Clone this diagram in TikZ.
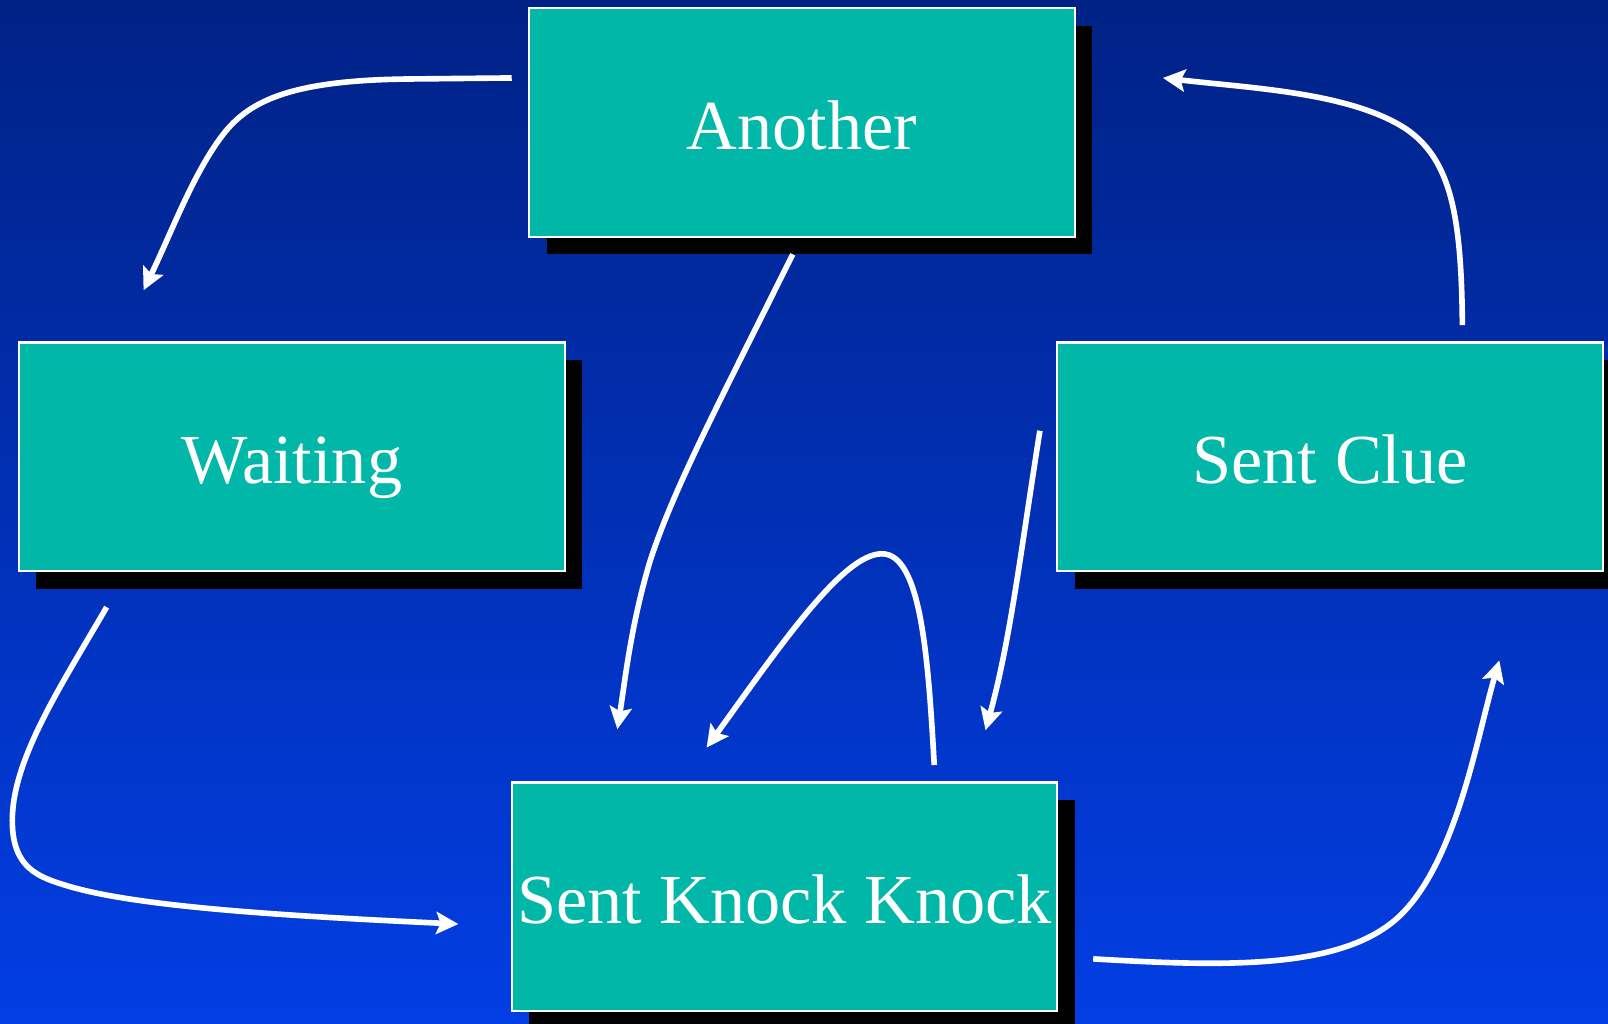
\documentclass[tikz,border=0pt]{standalone}
\usepackage{fontspec}
\setmainfont{Liberation Serif}
\usetikzlibrary{arrows.meta,shadows}
\definecolor{bgtop}{RGB}{0,34,134}
\definecolor{bgbot}{RGB}{2,62,228}
\definecolor{teal}{RGB}{0,183,168}
\begin{document}
\begin{tikzpicture}[x=0.0102551cm,y=-0.0102551cm,
  statebox/.style={draw=white,line width=0.6pt,fill=teal,minimum width=5.456cm,minimum height=2.287cm,
    inner sep=0pt,text=white,font=\fontsize{20}{24}\selectfont,text height=15.4pt,text depth=0pt,
    drop shadow={shadow xshift=0.174cm,shadow yshift=-0.174cm,opacity=1,fill=black}},
  conn/.style={draw=white,line width=1.6pt,-{Stealth[length=6.3pt,width=6.3pt,inset=1.2pt]}}]
\useasboundingbox (0,0) rectangle (1568,998);
\clip (0,0) rectangle (1568,998);
\shade[top color=bgtop,bottom color=bgbot] (0,0) rectangle (1568,998);
\node[statebox] (another) at (782,119.5) {Another};
\node[statebox] (waiting) at (284.5,445.5) {Waiting};
\node[statebox] (clue) at (1297,445.5) {Sent Clue};
\node[statebox] (skk) at (765,874.5) {Sent Knock Knock};
% free ends
\coordinate (aw1) at (499,76);   \coordinate (aw2) at (140,283);
\coordinate (as1) at (773,248);  \coordinate (as2) at (602,711);
\coordinate (ss1) at (911,746);  \coordinate (ss2) at (689,729);
\coordinate (cs1) at (1014,420); \coordinate (cs2) at (961,712);
\coordinate (ws1) at (104,592);  \coordinate (ws2) at (447,901);
\coordinate (sc1) at (1066,935); \coordinate (sc2) at (1462,644);
\coordinate (ca1) at (1426,317); \coordinate (ca2) at (1134,76);
% Another -> Waiting
\draw[conn] (aw1) -- (400,77) .. controls (285,78) and (245,98) .. (220,128) .. controls (190,165) and (168,225) .. (aw2);
% Another -> Sent Knock Knock
\draw[conn] (as1) .. controls (700,395) and (655,480) .. (633,550) .. controls (615,612) and (610,660) .. (as2);
% Sent Knock Knock self loop
\draw[conn] (ss1) .. controls (905,640) and (898,540) .. (860,540) .. controls (822,540) and (762,628) .. (ss2);
% Sent Clue -> Sent Knock Knock
\draw[conn] (cs1) .. controls (995,540) and (985,625) .. (cs2);
% Waiting -> Sent Knock Knock
\draw[conn] (ws1) .. controls (60,668) and (12,740) .. (12,800) .. controls (12,840) and (30,853) .. (60,862) .. controls (120,882) and (250,892) .. (ws2);
% Sent Knock Knock -> Sent Clue
\draw[conn] (sc1) .. controls (1200,943) and (1310,945) .. (1365,893) .. controls (1420,840) and (1440,720) .. (sc2);
% Sent Clue -> Another
\draw[conn] (ca1) .. controls (1425,210) and (1415,155) .. (1370,125) .. controls (1315,90) and (1220,86) .. (ca2);
\end{tikzpicture}
\end{document}
